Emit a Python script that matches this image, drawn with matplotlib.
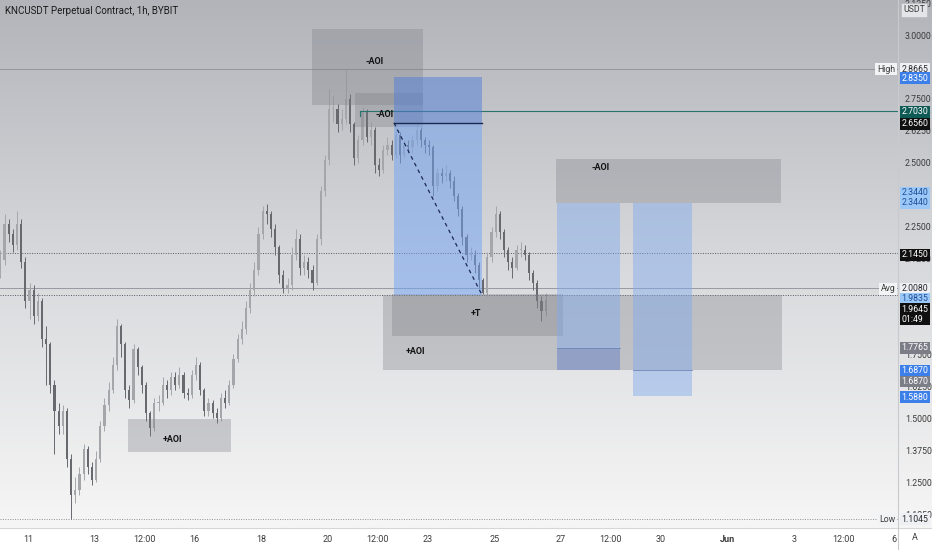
import numpy as np
import matplotlib.pyplot as plt
from matplotlib.patches import Rectangle
from matplotlib.colors import LinearSegmentedColormap
from matplotlib.ticker import FormatStrFormatter

plt.rcParams['font.family'] = ['Roboto', 'DejaVu Sans']

# 3h bars, x axis = day of May (32 = Jun 1)
t0 = 10.17
bar_step = 0.125
first_open = 2.08
closes = [2.12, 2.26, 2.22, 2.18, 2.26, 2.11, 1.96, 2.00, 1.90, 1.96,
          1.81, 1.79, 1.63, 1.53, 1.47, 1.53, 1.34, 1.20, 1.22, 1.28,
          1.38, 1.31, 1.26, 1.34, 1.47, 1.55, 1.61, 1.71, 1.86, 1.79,
          1.61, 1.57, 1.77, 1.70, 1.63, 1.52, 1.46, 1.56, 1.56, 1.63,
          1.61, 1.66, 1.63, 1.67, 1.60, 1.59, 1.67, 1.71, 1.61, 1.53,
          1.56, 1.52, 1.50, 1.58, 1.56, 1.63, 1.73, 1.81, 1.85, 1.93,
          2.00, 2.08, 2.22, 2.31, 2.30, 2.24, 2.17, 2.06, 2.01, 2.02,
          2.14, 2.20, 2.09, 2.11, 2.08, 2.03, 2.20, 2.39, 2.51, 2.71,
          2.71, 2.65, 2.67, 2.75, 2.65, 2.52, 2.59, 2.70, 2.60, 2.63,
          2.49, 2.47, 2.55, 2.57, 2.53, 2.61, 2.53, 2.57, 2.56, 2.59,
          2.63, 2.59, 2.57, 2.56, 2.41, 2.46, 2.45, 2.46, 2.43, 2.37,
          2.32, 2.21, 2.14, 2.14, 2.10, 2.04, 1.99, 2.13, 2.23, 2.30,
          2.23, 2.16, 2.11, 2.09, 2.16, 2.16, 2.14, 2.07, 2.03, 1.96,
          1.92, 1.9645]
highs = [2.16, 2.30, 2.28, 2.24, 2.31, 2.28, 2.13, 2.03, 2.02, 1.99,
         1.97, 1.86, 1.80, 1.65, 1.56, 1.55, 1.54, 1.36, 1.27, 1.31,
         1.40, 1.39, 1.33, 1.37, 1.49, 1.58, 1.64, 1.74, 1.89, 1.87,
         1.80, 1.63, 1.79, 1.78, 1.71, 1.64, 1.53, 1.58, 1.59, 1.66,
         1.65, 1.68, 1.68, 1.70, 1.68, 1.62, 1.69, 1.74, 1.72, 1.62,
         1.58, 1.57, 1.54, 1.60, 1.61, 1.65, 1.75, 1.83, 1.88, 1.96,
         2.03, 2.11, 2.25, 2.33, 2.34, 2.31, 2.26, 2.18, 2.08, 2.05,
         2.17, 2.24, 2.22, 2.14, 2.13, 2.10, 2.22, 2.41, 2.53, 2.79,
         2.76, 2.73, 2.71, 2.8665, 2.77, 2.66, 2.61, 2.72, 2.71, 2.66,
         2.64, 2.52, 2.57, 2.60, 2.59, 2.656, 2.62, 2.59, 2.59, 2.61,
         2.66, 2.64, 2.60, 2.59, 2.57, 2.48, 2.48, 2.49, 2.47, 2.45,
         2.38, 2.33, 2.22, 2.17, 2.16, 2.11, 2.05, 2.15, 2.25, 2.33,
         2.31, 2.24, 2.17, 2.13, 2.18, 2.19, 2.18, 2.15, 2.08, 2.04,
         1.98, 1.99]
lows = [2.05, 2.10, 2.19, 2.15, 2.16, 2.09, 1.93, 1.89, 1.87, 1.88,
        1.78, 1.63, 1.60, 1.36, 1.44, 1.44, 1.31, 1.1045, 1.17, 1.20,
        1.26, 1.28, 1.24, 1.25, 1.33, 1.45, 1.53, 1.60, 1.69, 1.74,
        1.58, 1.54, 1.56, 1.67, 1.60, 1.49, 1.43, 1.45, 1.53, 1.55,
        1.58, 1.59, 1.61, 1.62, 1.58, 1.57, 1.58, 1.65, 1.59, 1.51,
        1.51, 1.50, 1.48, 1.49, 1.54, 1.55, 1.62, 1.72, 1.79, 1.83,
        1.91, 1.98, 2.06, 2.20, 2.26, 2.21, 2.14, 2.03, 1.99, 1.99,
        2.00, 2.12, 2.06, 2.06, 2.05, 2.00, 2.02, 2.18, 2.37, 2.49,
        2.66, 2.62, 2.63, 2.65, 2.62, 2.49, 2.50, 2.57, 2.58, 2.57,
        2.46, 2.45, 2.46, 2.53, 2.51, 2.52, 2.50, 2.52, 2.54, 2.54,
        2.57, 2.56, 2.54, 2.53, 2.37, 2.39, 2.42, 2.43, 2.40, 2.35,
        2.29, 2.18, 2.11, 2.12, 2.07, 2.01, 1.985, 1.98, 2.11, 2.21,
        2.20, 2.13, 2.08, 2.05, 2.08, 2.13, 2.12, 2.04, 2.00, 1.93,
        1.88, 1.90]

# horizontal levels
high_price = 2.8665
low_price = 1.1045
avg_price = 2.0080
level_2145 = 2.1450
level_19835 = 1.9835
teal_level = 2.7030
teal_start = 20.97

# zones: (t_start, t_end, p_low, p_high, label, label_t, label_p)
zones = [
    (19.53, 22.86, 2.726, 3.023, '-AOI', 21.42, 2.898),
    (20.82, 22.86, 2.640, 2.773, '-AOI', 21.72, 2.687),
    (14.00, 17.10, 1.368, 1.497, '+AOI', 15.35, 1.415),
    (21.66, 33.64, 1.687, 1.982, '+AOI', 22.65, 1.763),
    (21.93, 27.07, 1.822, 1.986, '+T', 24.45, 1.908),
    (26.86, 33.61, 2.344, 2.515, '-AOI', 28.18, 2.483),
]

# position tools: (t_start, t_end, entry, stop, target)
short_pos = (21.99, 24.63, 2.6560, 2.8350, 1.9835)
long_pos1 = (26.89, 28.78, 1.7765, 1.6870, 2.3440)
long_pos2 = (29.17, 30.94, 1.6870, 1.5880, 2.3440)

time_ticks = [11, 13, 14.5, 16, 18, 20, 21.5, 23, 25, 27, 28.5, 30, 32, 34, 35.5, 37]
time_labels = ['11', '13', '12:00', '16', '18', '20', '12:00', '23', '25', '27',
               '12:00', '30', 'Jun', '3', '12:00', '6']
price_ticks = [1.125, 1.25, 1.375, 1.5, 1.625, 1.75, 2.125, 2.25, 2.5, 2.625, 2.75, 3.0, 3.125]

fig = plt.figure(figsize=(9.32, 5.5), dpi=100)
fig.patch.set_facecolor('white')

# gradient background
bg = fig.add_axes([0, 0.04, 1, 0.96])
cmap = LinearSegmentedColormap.from_list('bg', ['#b2b4ba', '#d8d9dc', '#f6f6f6'])
bg.imshow(np.linspace(0, 1, 256).reshape(-1, 1), cmap=cmap, aspect='auto', extent=[0, 1, 0, 1])
bg.axis('off')

ax = fig.add_axes([0, 0.04, 898 / 932, 0.96])
ax.set_facecolor('none')
ax.set_xlim(10.159, 37.126)
ax.set_ylim(1.0704, 3.137)
for s in ax.spines.values():
    s.set_visible(False)

# candles
times = t0 + bar_step * np.arange(len(closes))
opens = [first_open] + closes[:-1]
up = np.array(closes) >= np.array(opens)
col = np.where(up, '#a4a6aa', '#67696f')
ax.vlines(times, lows, highs, colors=col, lw=0.7, zorder=2)
bodies = np.maximum(np.abs(np.array(closes) - np.array(opens)), 0.004)
ax.bar(times, bodies, bottom=np.minimum(closes, opens), width=0.065, color=col, zorder=2)

# horizontal lines
ax.axhline(high_price, color='#8c8f96', lw=0.6, zorder=1)
ax.axhline(avg_price, color='#8c8f96', lw=0.6, zorder=1)
ax.axhline(level_2145, color='#55585f', lw=0.7, ls=(0, (1, 1.5)), zorder=1)
ax.axhline(level_19835, color='#55585f', lw=0.7, ls=(0, (1, 1.5)), zorder=1)
ax.axhline(low_price, color='#8c8f96', lw=0.7, ls=(0, (1, 1.5)), zorder=1)
ax.plot([teal_start, 37.2], [teal_level, teal_level], color='#2b746d', lw=0.8, zorder=4)
ax.plot([teal_start, teal_start], [teal_level, teal_level - 0.02], color='#2b746d', lw=0.8, zorder=4)

# grey zones
for t1, t2, lo, hi, lab, lt, lp in zones:
    ax.add_patch(Rectangle((t1, lo), t2 - t1, hi - lo, fc='#7d7f86', alpha=0.33, ec='none', zorder=3))
    ax.text(lt, lp, lab, fontsize=6.5, fontweight='bold', color='#111111', ha='center', va='center', zorder=6)

# short position tool
t1, t2, entry, stop, target = short_pos
ax.add_patch(Rectangle((t1, entry), t2 - t1, stop - entry, fc='#4f7fd8', alpha=0.5, ec='none', zorder=4))
ax.add_patch(Rectangle((t1, target), t2 - t1, entry - target, fc='#6fa3f5', alpha=0.5, ec='none', zorder=4))
ax.plot([t1, t2], [entry, entry], color='#1c2950', lw=1.0, zorder=5)
ax.plot([t1, t2], [entry, target], color='#1c2950', lw=0.9, ls=(0, (3, 3)), zorder=5)

# long position tools
for pos, stop_col in [(long_pos1, '#5a78c8'), (long_pos2, '#7fa9ee')]:
    t1, t2, entry, stop, target = pos
    ax.add_patch(Rectangle((t1, entry), t2 - t1, target - entry, fc='#7fa9ee', alpha=0.45, ec='none', zorder=4))
    ax.add_patch(Rectangle((t1, stop), t2 - t1, entry - stop, fc=stop_col, alpha=0.45, ec='none', zorder=4))
    ax.plot([t1, t2], [entry, entry], color='#6f86b8', lw=0.6, zorder=5)

# axes ticks
ax.set_xticks(time_ticks)
ax.set_xticklabels(time_labels)
ax.get_xticklabels()[12].set_fontweight('bold')
ax.tick_params(axis='x', length=0, pad=5, labelsize=6.5, labelcolor='#3c3c3c')
ax.yaxis.tick_right()
ax.set_yticks(price_ticks)
ax.yaxis.set_major_formatter(FormatStrFormatter('%.4f'))
ax.tick_params(axis='y', length=0, pad=5, labelsize=6.3, labelcolor='#3c3c3c')

# separators
fig.add_artist(plt.Line2D([0, 1], [0.04, 0.04], color='#d6d6d6', lw=0.8))
fig.add_artist(plt.Line2D([898 / 932, 898 / 932], [0, 1], color='#c9cacd', lw=0.8))

# price tags on the right scale
ytr = ax.get_yaxis_transform()


def tag(p, text, fc, tc):
    ax.text(1.004, p, text, transform=ytr, ha='left', va='center', fontsize=6.3, color=tc,
            bbox=dict(boxstyle='square,pad=0.16', fc=fc, ec='none'), zorder=20, clip_on=False)


def side_label(p, text):
    ax.text(0.997, p, text, transform=ytr, ha='right', va='center', fontsize=6.3, color='#3c3c3c',
            bbox=dict(boxstyle='square,pad=0.2', fc='#f2f3f5', ec='none'), zorder=20, clip_on=False)


tag(high_price, '%.4f' % high_price, '#eef0f4', '#2a2a2a')
side_label(high_price, 'High')
tag(short_pos[3] - 0.004, '%.4f' % short_pos[3], '#3d7fe8', 'white')
tag(teal_level - 0.004, '%.4f' % teal_level, '#0e5b55', 'white')
tag(short_pos[2] - 0.004, '%.4f' % short_pos[2], '#101010', 'white')
tag(long_pos1[4] + 0.038, '%.4f' % long_pos1[4], '#9cc8f7', '#1d4f9a')
tag(long_pos1[4], '%.4f' % long_pos2[4], '#9cc8f7', '#1d4f9a')
tag(level_2145 - 0.006, '%.4f' % level_2145, '#101010', 'white')
tag(avg_price - 0.002, '%.4f' % avg_price, '#eef0f4', '#2a2a2a')
side_label(avg_price - 0.002, 'Avg')
tag(level_19835 - 0.016, '%.4f' % level_19835, '#9cc8f7', '#1d4f9a')
ax.text(1.004, 1.945, '1.9645\n01:49', transform=ytr, ha='left', va='top', fontsize=6.3, color='white',
        linespacing=1.2, bbox=dict(boxstyle='square,pad=0.16', fc='#101010', ec='none'), zorder=20, clip_on=False)
tag(long_pos1[2] - 0.001, '%.4f' % long_pos1[2], '#7b7e87', 'white')
tag(long_pos1[3], '%.4f' % long_pos1[3], '#3d7fe8', 'white')
tag(long_pos2[2] - 0.043, '%.4f' % long_pos2[2], '#7b7e87', 'white')
tag(long_pos2[3] - 0.005, '%.4f' % long_pos2[3], '#3d7fe8', 'white')
tag(low_price, '%.4f' % low_price, '#eef0f4', '#2a2a2a')
side_label(low_price, 'Low')
ax.text(1.006, 3.098, 'USDT', transform=ytr, ha='left', va='center', fontsize=6.3, color='#3c3c3c',
        bbox=dict(boxstyle='square,pad=0.25', fc='#e4e5e8', ec='#b8b9bd', lw=0.5), zorder=20, clip_on=False)

fig.text(915 / 932, 12 / 550, 'A', fontsize=6.5, color='#3c3c3c', ha='center', va='center')
fig.text(5 / 932, 1 - 11 / 550, 'KNCUSDT Perpetual Contract, 1h, BYBIT', fontsize=7, color='#1a1a1a',
         ha='left', va='center')

fig.savefig('out.png', dpi=100)
